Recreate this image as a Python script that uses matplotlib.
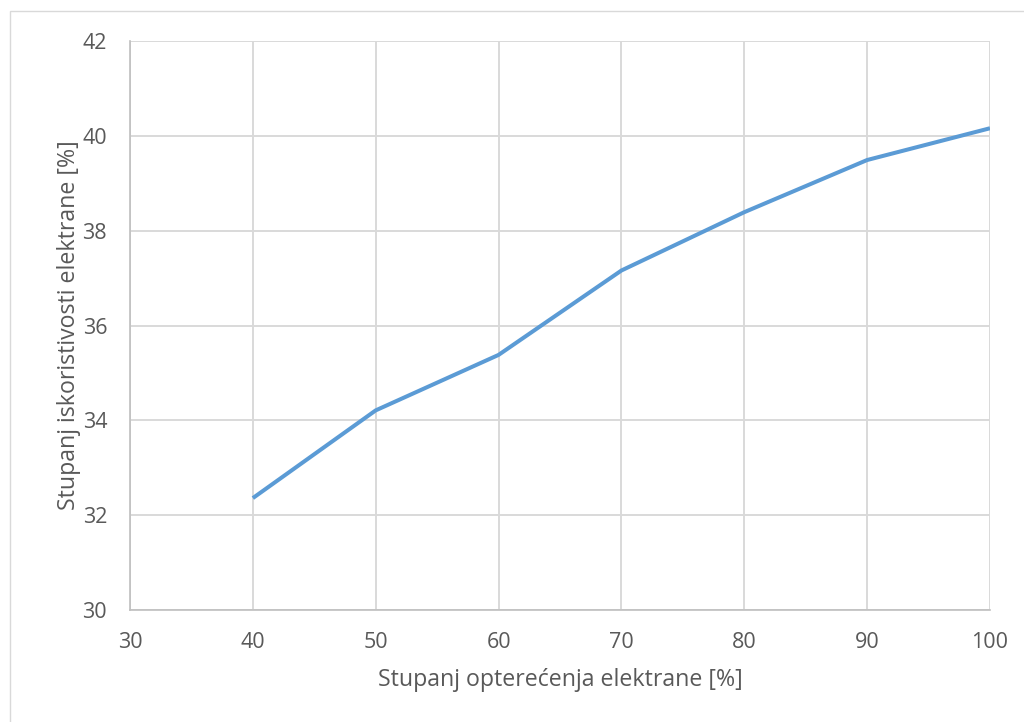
import matplotlib
matplotlib.use("Agg")
import matplotlib.pyplot as plt
from matplotlib.patches import Rectangle

# data
opterecenje = [40, 50, 60, 70, 80, 90, 100]
iskoristivost = [32.36, 34.21, 35.38, 37.16, 38.39, 39.49, 40.16]
x_ticks = [30, 40, 50, 60, 70, 80, 90, 100]
y_ticks = [30, 32, 34, 36, 38, 40, 42]

plt.rcParams['font.family'] = ['Open Sans', 'DejaVu Sans']

fig = plt.figure(figsize=(10.24, 7.22), dpi=100)
W, H = 1024.0, 722.0
ax = fig.add_axes([130 / W, 1 - 610 / H, 860 / W, 569 / H])

# outer chart border
fig.patches.append(Rectangle((10 / W, -0.01), 1.1, 1 - 11 / H + 0.01,
                             transform=fig.transFigure, fill=False,
                             edgecolor='#d9d9d9', linewidth=1.0))

ax.plot(opterecenje, iskoristivost, color='#5b9bd5', linewidth=2.9,
        solid_capstyle='butt', zorder=3)

ax.set_xlim(30, 100)
ax.set_ylim(30, 42)
ax.set_xticks(x_ticks)
ax.set_yticks(y_ticks)
ax.grid(True, color='#d9d9d9', linewidth=1.4)
ax.set_axisbelow(True)

for s in ['top', 'right']:
    ax.spines[s].set_visible(False)
for s in ['left', 'bottom']:
    ax.spines[s].set_color('#bfbfbf')
    ax.spines[s].set_linewidth(1.2)

ax.tick_params(length=0, labelsize=15.5, colors='#595959')
ax.tick_params(axis='y', pad=16.5)
ax.tick_params(axis='x', pad=16)
ax.set_xlabel('Stupanj opterećenja elektrane [%]', fontsize=16.7,
              color='#595959', labelpad=11)
ax.set_ylabel('Stupanj iskoristivosti elektrane [%]', fontsize=16.7,
              color='#595959', labelpad=1)

fig.savefig('out.png', dpi=100)
